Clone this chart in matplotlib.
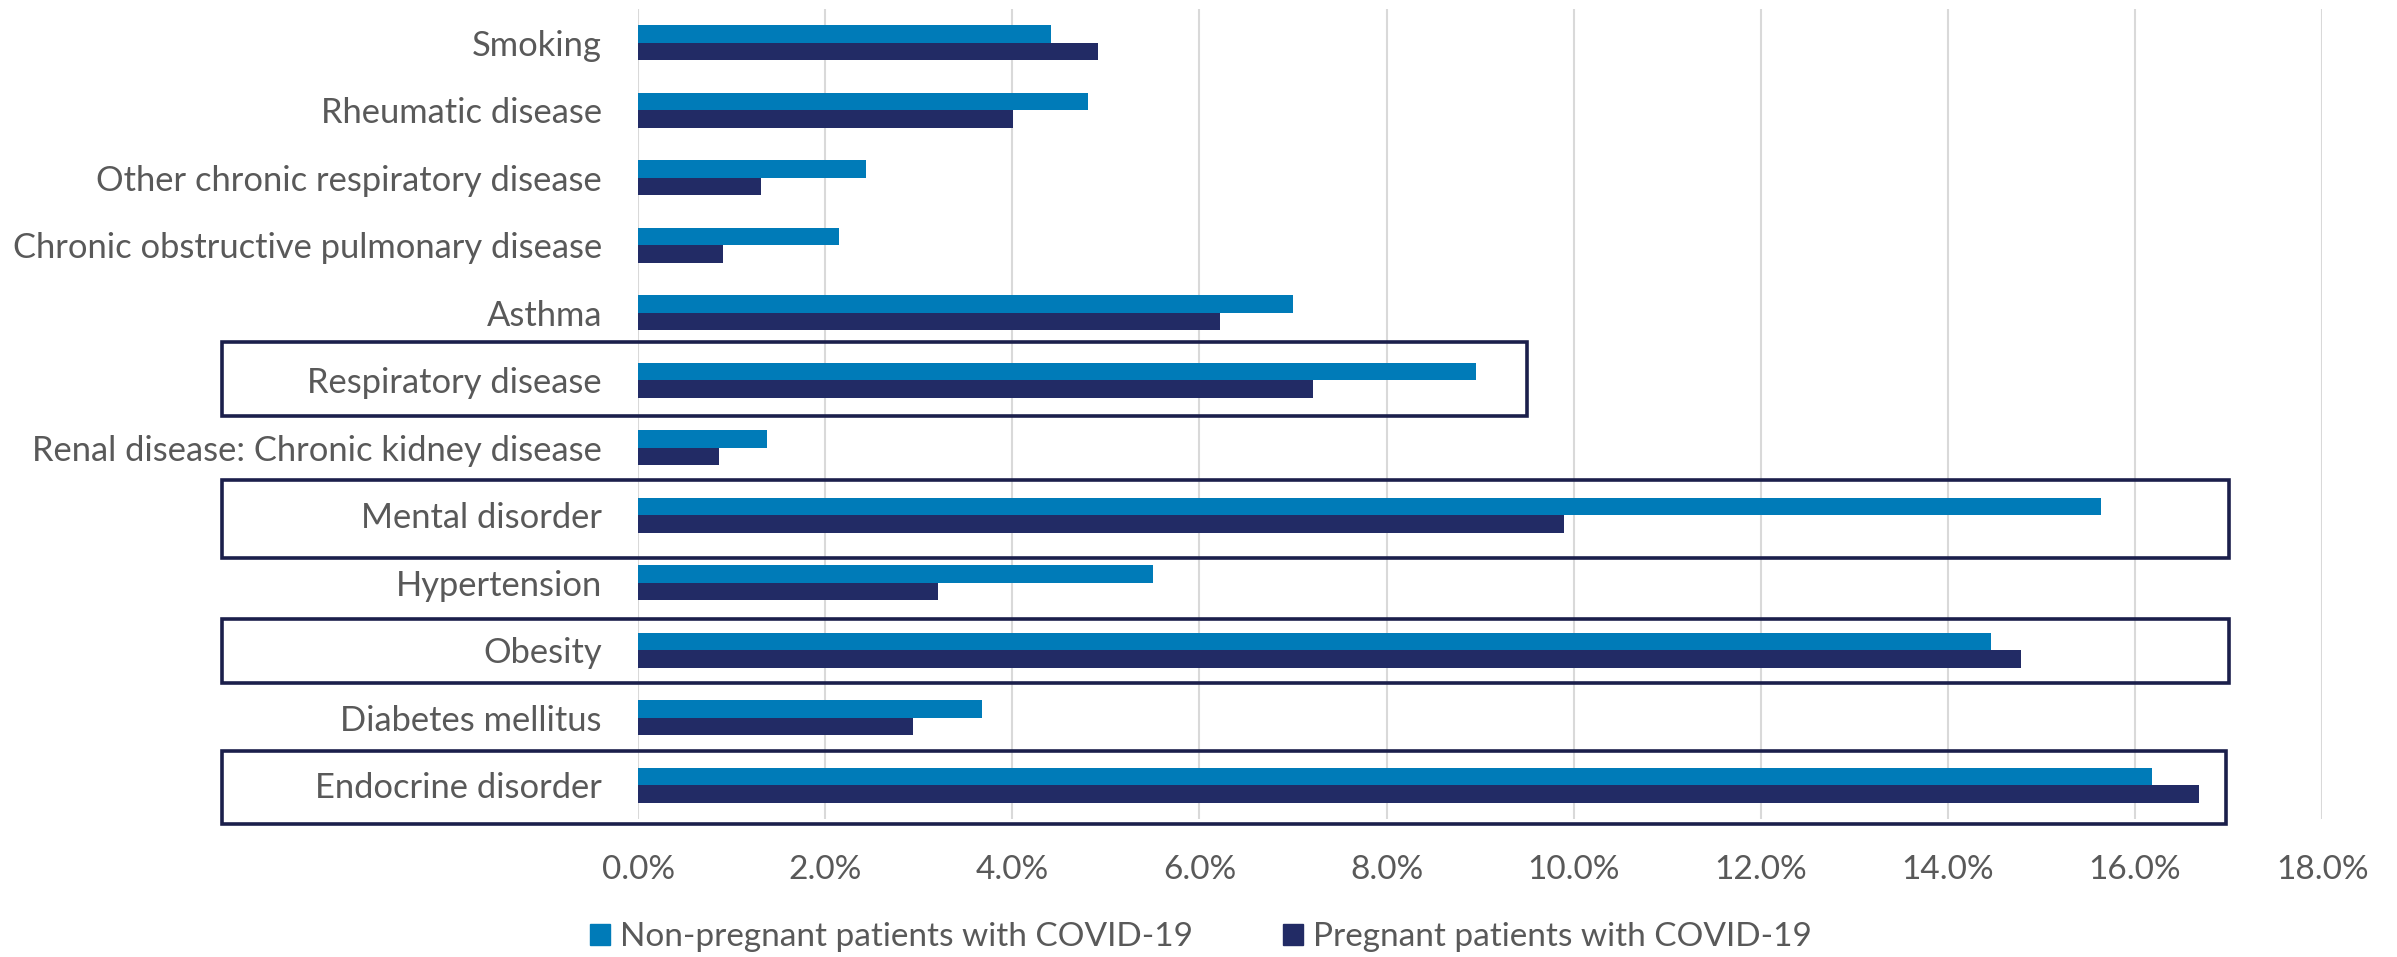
import matplotlib.pyplot as plt
import numpy as np
from matplotlib.patches import Rectangle, Patch
from matplotlib.ticker import FuncFormatter

plt.rcParams['font.family'] = ['Lato', 'DejaVu Sans']

categories = ["Smoking", "Rheumatic disease", "Other chronic respiratory disease",
              "Chronic obstructive pulmonary disease", "Asthma", "Respiratory disease",
              "Renal disease: Chronic kidney disease", "Mental disorder", "Hypertension",
              "Obesity", "Diabetes mellitus", "Endocrine disorder"]
non_pregnant = [4.41, 4.81, 2.44, 2.15, 7.00, 8.96, 1.38, 15.64, 5.50, 14.46, 3.68, 16.18]
pregnant = [4.92, 4.01, 1.31, 0.91, 6.22, 7.21, 0.87, 9.90, 3.21, 14.78, 2.94, 16.68]
series_names = ["Non-pregnant patients with COVID-19", "Pregnant patients with COVID-19"]

# highlighted groups: (category, right edge in %, pad above, pad below)
highlights = [("Respiratory disease", 9.5, 0.56, 0.53),
              ("Mental disorder", 17.0, 0.52, 0.63),
              ("Obesity", 17.0, 0.46, 0.48),
              ("Endocrine disorder", 16.97, 0.51, 0.58)]

light = '#007BB8'
dark = '#222B65'
box_col = '#1B1F4B'
txt = '#595959'

fig = plt.figure(figsize=(23.97, 9.57), dpi=100)
ax = fig.add_axes([0.2662, 0.1442, 0.7026, 0.8464])

y = np.arange(len(categories))
h = 0.26
ax.barh(y - h / 2, non_pregnant, height=h, color=light, zorder=3)
ax.barh(y + h / 2, pregnant, height=h, color=dark, zorder=3)

ax.set_xlim(0, 18)
ax.set_ylim(len(categories) - 0.5, -0.5)
ax.set_xticks(np.arange(0, 19, 2))
ax.xaxis.set_major_formatter(FuncFormatter(lambda v, p: f"{v:.1f}%"))
ax.set_yticks(y)
ax.set_yticklabels(categories, fontsize=24.8)
ax.tick_params(axis='both', length=0, colors=txt)
ax.tick_params(axis='x', labelsize=24, pad=26)
ax.tick_params(axis='y', pad=26)
ax.grid(axis='x', color='#D9D9D9', linewidth=1.5, zorder=0)
for s in ax.spines.values():
    s.set_visible(False)

left = -4.45
for name, right, top, bottom in highlights:
    i = categories.index(name)
    ax.add_patch(Rectangle((left, i - top), right - left, top + bottom,
                           fill=False, edgecolor=box_col, linewidth=2.6,
                           clip_on=False, zorder=4))

handles = [Patch(color=light), Patch(color=dark)]
fig.legend(handles, series_names, loc='center', bbox_to_anchor=(0.501, 0.021),
           ncol=2, frameon=False, fontsize=24, labelcolor=txt,
           handlelength=0.6, handleheight=0.6, handletextpad=0.3,
           columnspacing=2.7)

fig.savefig('out.png', dpi=100)
